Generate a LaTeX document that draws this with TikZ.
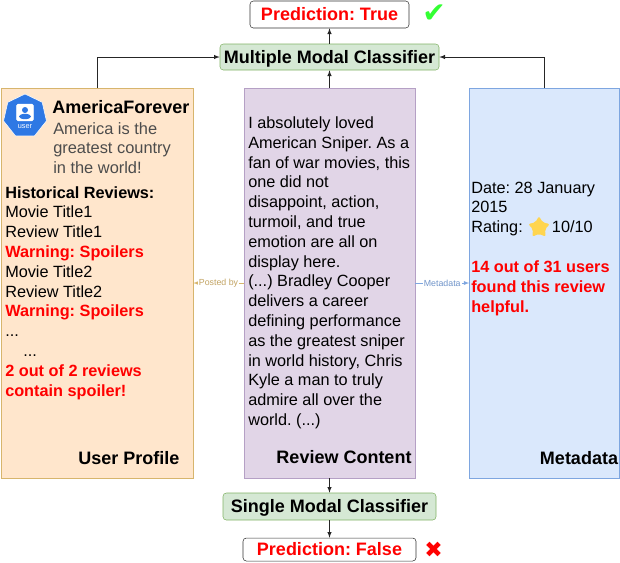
\documentclass[tikz,border=0pt]{standalone}
\usepackage{fontspec}
\setmainfont{Liberation Sans}
\newfontfamily\symbolfont{DejaVu Sans}
\usetikzlibrary{shapes.geometric}
\frenchspacing
\definecolor{userfill}{HTML}{FFE6CC}
\definecolor{userline}{HTML}{D7B56D}
\definecolor{reviewfill}{HTML}{E1D5E7}
\definecolor{reviewline}{HTML}{B5A0C5}
\definecolor{metafill}{HTML}{DAE8FC}
\definecolor{metaline}{HTML}{7EA6E0}
\definecolor{classfill}{HTML}{D5E8D4}
\definecolor{classline}{HTML}{82B366}
\definecolor{iconblue}{HTML}{2E78E4}
\definecolor{okgreen}{HTML}{33FF33}
\definecolor{starfill}{HTML}{FFD54F}

\begin{document}
\begin{tikzpicture}[x=0.75pt, y=-0.75pt, >=latex]
        \tikzstyle{panel}=[draw,minimum width=0pt,inner sep=0pt]
        \tikzstyle{classifier}=[draw=classline,fill=classfill,rounded corners=2.5pt,inner sep=0pt,text height=9.7pt,text depth=0pt,font=\fontsize{13.5}{15}\selectfont\bfseries]
        \tikzstyle{outcome}=[draw=black!80,fill=white,rounded corners=2.5pt,inner sep=0pt,text=red,font=\fontsize{13.5}{15}\selectfont\bfseries]
        \tikzstyle{body}=[inner sep=0pt,anchor=north west,align=left,font=\fontsize{12.2}{14.85}\selectfont]
        \tikzstyle{paneltitle}=[inner sep=0pt,font=\fontsize{13.5}{15}\selectfont\bfseries]
        \tikzstyle{linklabel}=[midway,fill=white,inner sep=1pt,font=\fontsize{6.6}{7}\selectfont]
        \tikzstyle{flow}=[->,draw=black!85,line width=0.5pt]

        \useasboundingbox (0,0) rectangle (620,562);

        % three panels
        \node[panel,draw=userline,fill=userfill,minimum width=144pt,minimum height=292.5pt] (User) at (97,283) {};
        \node[panel,draw=reviewline,fill=reviewfill,minimum width=128.25pt,minimum height=292.5pt] (Review) at (329.5,283) {};
        \node[panel,draw=metaline,fill=metafill,minimum width=112.5pt,minimum height=292.5pt] (Meta) at (544.5,283) {};

        % classifiers and outcomes
        \node[classifier,minimum width=164.25pt,minimum height=19.5pt] (Multi) at (329.5,57) {Multiple Modal Classifier};
        \node[outcome,minimum width=119.25pt,minimum height=20.25pt] (True) at (329.5,14.5) {Prediction: True};
        \node[classifier,minimum width=159.75pt,minimum height=20.25pt] (Single) at (329.5,506.5) {Single Modal Classifier};
        \node[outcome,minimum width=129.75pt,minimum height=17.25pt] (False) at (329.5,549.5) {Prediction: False};
        \node[inner sep=0pt,text=okgreen,font=\symbolfont\fontsize{21}{22}\selectfont] (Tick) at (434,14) {✔};
        \node[inner sep=0pt,text=red,font=\symbolfont\fontsize{16.5}{18}\selectfont] (Cross) at (433.5,549.5) {✖};

        % user icon
        \node[regular polygon,regular polygon sides=7,draw=white,fill=iconblue,minimum size=33pt,inner sep=0pt] (Icon) at (25,116) {};
        \node[draw=white,fill=white,rounded corners=1pt,minimum size=12.5pt,inner sep=0pt] (Badge) at (25,112.5) {};
        \node[circle,fill=iconblue,minimum size=4.5pt,inner sep=0pt] (Head) at (25,110) {};
        \node[ellipse,fill=iconblue,minimum width=9pt,minimum height=4pt,inner sep=0pt] (Torso) at (25,116.5) {};
        \node[inner sep=0pt,text=white,font=\fontsize{5.5}{6}\selectfont] (IconText) at (25,127) {user};

        % user panel text
        \node[inner sep=0pt,anchor=west,font=\fontsize{13.5}{15}\selectfont\bfseries] (Name) at (52,107) {AmericaForever};
        \node[body,text=black!70,font=\fontsize{12.3}{14.85}\selectfont] (Bio) at (53,122) {America is the\\greatest country\\in the world!};
        \node[body] (History) at (5,186) {\textbf{Historical Reviews:}\\Movie Title1\\Review Title1\\\textcolor{red}{\textbf{Warning: Spoilers}}\\Movie Title2\\Review Title2\\\textcolor{red}{\textbf{Warning: Spoilers}}\\...\\\hspace{13.5pt}...\\\textcolor{red}{\textbf{2 out of 2 reviews}}\\\textcolor{red}{\textbf{contain spoiler!}}};

        % review panel text
        \node[body] (Text) at (248,116.5) {I absolutely loved\\American Sniper. As a\\fan of war movies, this\\one did not\\disappoint, action,\\turmoil, and true\\emotion are all on\\display here.\\(...) Bradley Cooper\\delivers a career\\defining performance\\as the greatest sniper\\in world history, Chris\\Kyle a man to truly\\admire all over the\\world. (...)};

        % metadata panel text
        \node[body] (Date) at (471,181.5) {Date: 28 January\\2015\\Rating: \hspace{18.5pt}10/10\\[15.2pt]\textcolor{red}{\textbf{14 out of 31 users}}\\\textcolor{red}{\textbf{found this review}}\\\textcolor{red}{\textbf{helpful.}}};
        \node[star,star points=5,star point ratio=1.8,fill=starfill,inner sep=0pt,minimum size=17pt,rounded corners=1.5pt] (Star) at (539,227.5) {};

        % panel titles
        \node[paneltitle] (UserTitle) at (129,458) {User Profile};
        \node[paneltitle] (ReviewTitle) at (344,457) {Review Content};
        \node[paneltitle] (MetaTitle) at (579,458) {Metadata};

        % connectors
        \draw[flow] (Review.north) -- (Multi.south);
        \draw[flow] (Multi.north) -- (True.south);
        \draw[flow] (User.north) |- (Multi.west);
        \draw[flow] (Meta.north) |- (Multi.east);
        \draw[flow] (Review.south) -- (Single.north);
        \draw[flow] (Single.south) -- (False.north);
        \draw[->,draw=userline,line width=0.4pt] (Review.west) -- (User.east) node[linklabel,text=userline!90!black] {Posted by};
        \draw[->,draw=metaline,line width=0.4pt] (Review.east) -- (Meta.west) node[linklabel,text=metaline!90!black] {Metadata};
    \end{tikzpicture}
\end{document}
